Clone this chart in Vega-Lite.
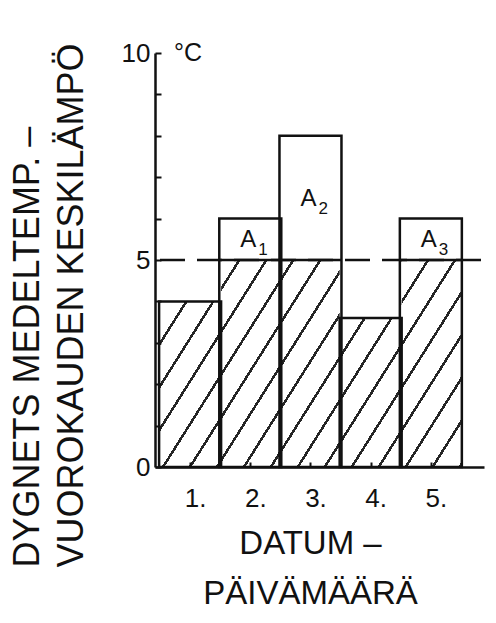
{
  "$schema": "https://vega.github.io/schema/vega-lite/v6.json",
  "autosize": {"type": "none"},
  "padding": {"left": 155, "top": 53, "right": 12, "bottom": 156},
  "width": 329,
  "height": 414,
  "background": "white",
  "config": {"font": "Liberation Sans", "view": {"stroke": null}},
  "data": {"values": [
    {"day": 1, "temp": 4},
    {"day": 2, "temp": 6, "area": "1"},
    {"day": 3, "temp": 8, "area": "2"},
    {"day": 4, "temp": 3.6},
    {"day": 5, "temp": 6, "area": "3"}
  ]},
  "layer": [
    {
      "data": {"values": [{}]},
      "mark": {"type": "rect", "fill": {"gradient": "linear", "x1": 0, "y1": 0, "x2": 1.207, "y2": 0.5225, "stops": [
        {"offset": 0, "color": "#ffffff"},
        {"offset": 0.055625, "color": "#ffffff"}, {"offset": 0.055625, "color": "#262626"}, {"offset": 0.0625, "color": "#262626"}, {"offset": 0.0625, "color": "#ffffff"},
        {"offset": 0.118125, "color": "#ffffff"}, {"offset": 0.118125, "color": "#262626"}, {"offset": 0.125, "color": "#262626"}, {"offset": 0.125, "color": "#ffffff"},
        {"offset": 0.180625, "color": "#ffffff"}, {"offset": 0.180625, "color": "#262626"}, {"offset": 0.1875, "color": "#262626"}, {"offset": 0.1875, "color": "#ffffff"},
        {"offset": 0.243125, "color": "#ffffff"}, {"offset": 0.243125, "color": "#262626"}, {"offset": 0.25, "color": "#262626"}, {"offset": 0.25, "color": "#ffffff"},
        {"offset": 0.305625, "color": "#ffffff"}, {"offset": 0.305625, "color": "#262626"}, {"offset": 0.3125, "color": "#262626"}, {"offset": 0.3125, "color": "#ffffff"},
        {"offset": 0.368125, "color": "#ffffff"}, {"offset": 0.368125, "color": "#262626"}, {"offset": 0.375, "color": "#262626"}, {"offset": 0.375, "color": "#ffffff"},
        {"offset": 0.430625, "color": "#ffffff"}, {"offset": 0.430625, "color": "#262626"}, {"offset": 0.4375, "color": "#262626"}, {"offset": 0.4375, "color": "#ffffff"},
        {"offset": 0.493125, "color": "#ffffff"}, {"offset": 0.493125, "color": "#262626"}, {"offset": 0.5, "color": "#262626"}, {"offset": 0.5, "color": "#ffffff"},
        {"offset": 0.555625, "color": "#ffffff"}, {"offset": 0.555625, "color": "#262626"}, {"offset": 0.5625, "color": "#262626"}, {"offset": 0.5625, "color": "#ffffff"},
        {"offset": 0.618125, "color": "#ffffff"}, {"offset": 0.618125, "color": "#262626"}, {"offset": 0.625, "color": "#262626"}, {"offset": 0.625, "color": "#ffffff"},
        {"offset": 0.680625, "color": "#ffffff"}, {"offset": 0.680625, "color": "#262626"}, {"offset": 0.6875, "color": "#262626"}, {"offset": 0.6875, "color": "#ffffff"},
        {"offset": 0.743125, "color": "#ffffff"}, {"offset": 0.743125, "color": "#262626"}, {"offset": 0.75, "color": "#262626"}, {"offset": 0.75, "color": "#ffffff"},
        {"offset": 0.805625, "color": "#ffffff"}, {"offset": 0.805625, "color": "#262626"}, {"offset": 0.8125, "color": "#262626"}, {"offset": 0.8125, "color": "#ffffff"},
        {"offset": 0.868125, "color": "#ffffff"}, {"offset": 0.868125, "color": "#262626"}, {"offset": 0.875, "color": "#262626"}, {"offset": 0.875, "color": "#ffffff"},
        {"offset": 0.930625, "color": "#ffffff"}, {"offset": 0.930625, "color": "#262626"}, {"offset": 0.9375, "color": "#262626"}, {"offset": 0.9375, "color": "#ffffff"},
        {"offset": 0.993125, "color": "#ffffff"}, {"offset": 0.993125, "color": "#262626"}, {"offset": 1, "color": "#262626"}
      ]}},
      "encoding": {
        "x": {"datum": 0.5, "type": "quantitative", "scale": {"domain": [0.5, 5.8], "nice": false, "zero": false}},
        "x2": {"datum": 5.5},
        "y": {"datum": 0, "type": "quantitative", "scale": {"domain": [0, 10], "nice": false}},
        "y2": {"datum": 5}
      }
    },
    {
      "transform": [{"filter": "datum.temp < 5"}],
      "mark": {"type": "bar", "fill": "white", "width": 62},
      "encoding": {
        "x": {"field": "day", "type": "quantitative", "scale": {"domain": [0.5, 5.8], "nice": false, "zero": false}},
        "y": {"field": "temp", "type": "quantitative", "scale": {"domain": [0, 10], "nice": false}},
        "y2": {"datum": 5}
      }
    },
    {
      "data": {"values": [{}]},
      "mark": {"type": "rule", "stroke": "#111111", "strokeWidth": 2.5, "strokeDash": [25, 12]},
      "encoding": {
        "x": {"datum": 0.5, "type": "quantitative", "scale": {"domain": [0.5, 5.8], "nice": false, "zero": false}},
        "x2": {"datum": 6.0},
        "y": {"datum": 5, "type": "quantitative", "scale": {"domain": [0, 10], "nice": false}}
      }
    },
    {
      "mark": {"type": "bar", "fill": "white", "fillOpacity": 0, "stroke": "#111111", "strokeWidth": 2.5, "width": 62},
      "encoding": {
        "x": {"field": "day", "type": "quantitative", "scale": {"domain": [0.5, 5.8], "nice": false, "zero": false},
          "axis": {"tickCount": 5, "labelExpr": "datum.value + '.'", "grid": false, "labelFlush": false, "zindex": 1, "ticks": true,
            "tickSize": -5, "tickWidth": 2, "tickColor": "#111111", "domainColor": "#111111", "domainWidth": 2.5,
            "labelFontSize": 26, "labelColor": "#111111", "labelPadding": 23, "labelOffset": 5,
            "title": ["DATUM –", "PÄIVÄMÄÄRÄ"], "titleFontSize": 33, "titleFontWeight": "normal", "titleColor": "#111111",
            "titleX": 155, "titleY": 86, "titleAlign": "center", "titleBaseline": "alphabetic", "titleLineHeight": 50}},
        "y": {"field": "temp", "type": "quantitative", "scale": {"domain": [0, 10], "nice": false},
          "axis": {"tickCount": 10, "labelExpr": "datum.value % 5 === 0 ? datum.label : ''", "grid": false, "zindex": 1, "ticks": true,
            "tickSize": -6, "tickWidth": 2, "tickColor": "#111111", "domainColor": "#111111", "domainWidth": 2.5,
            "labelFontSize": 26, "labelColor": "#111111", "labelPadding": 11,
            "title": ["DYGNETS MEDELTEMP. –", "VUOROKAUDEN KESKILÄMPÖ"], "titleFontSize": 36, "titleFontWeight": "normal", "titleColor": "#111111",
            "titleAngle": 270, "titleAlign": "left", "titleBaseline": "top", "titleX": -145, "titleY": 514, "titleLineHeight": 44}}
      }
    },
    {
      "transform": [{"filter": "datum.temp > 5"}],
      "mark": {"type": "tick", "orient": "horizontal", "size": 62, "thickness": 2.5, "color": "#111111", "opacity": 1},
      "encoding": {
        "x": {"field": "day", "type": "quantitative", "scale": {"domain": [0.5, 5.8], "nice": false, "zero": false}},
        "y": {"datum": 5, "type": "quantitative", "scale": {"domain": [0, 10], "nice": false}}
      }
    },
    {
      "transform": [{"filter": "datum.area"}, {"calculate": "(datum.temp + 5) / 2", "as": "mid"}],
      "mark": {"type": "text", "fontSize": 24, "align": "center", "baseline": "alphabetic", "dx": -2, "dy": 8, "color": "#111111"},
      "encoding": {
        "x": {"field": "day", "type": "quantitative", "scale": {"domain": [0.5, 5.8], "nice": false, "zero": false}},
        "y": {"field": "mid", "type": "quantitative", "scale": {"domain": [0, 10], "nice": false}},
        "text": {"value": "A"}
      }
    },
    {
      "transform": [{"filter": "datum.area"}, {"calculate": "(datum.temp + 5) / 2", "as": "mid"}],
      "mark": {"type": "text", "fontSize": 17, "align": "left", "baseline": "alphabetic", "dx": 8, "dy": 16, "color": "#111111"},
      "encoding": {
        "x": {"field": "day", "type": "quantitative", "scale": {"domain": [0.5, 5.8], "nice": false, "zero": false}},
        "y": {"field": "mid", "type": "quantitative", "scale": {"domain": [0, 10], "nice": false}},
        "text": {"field": "area"}
      }
    },
    {
      "data": {"values": [{}]},
      "mark": {"type": "text", "fontSize": 25, "align": "left", "baseline": "middle", "dx": 14, "color": "#111111"},
      "encoding": {
        "x": {"datum": 0.5, "type": "quantitative", "scale": {"domain": [0.5, 5.8], "nice": false, "zero": false}},
        "y": {"datum": 10, "type": "quantitative", "scale": {"domain": [0, 10], "nice": false}},
        "text": {"value": "°C"}
      }
    }
  ]
}
